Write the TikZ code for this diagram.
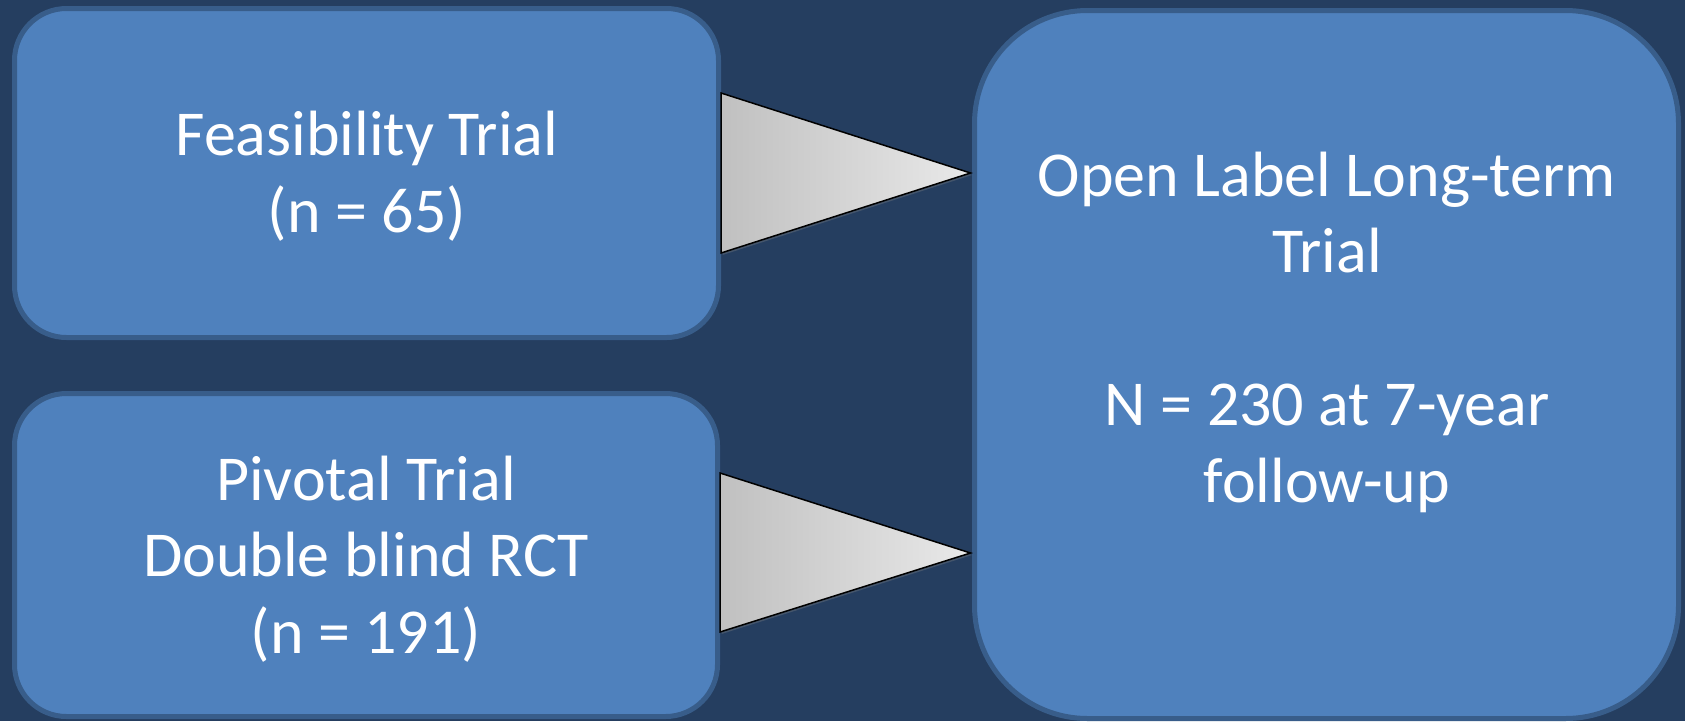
\documentclass[tikz,border=0pt]{standalone}
\usepackage{fontspec}
\setmainfont{Carlito}
\usetikzlibrary{calc,shadows}
\definecolor{bg}{RGB}{37,62,96}
\definecolor{boxfill}{RGB}{79,129,189}
\definecolor{boxline}{RGB}{56,93,138}
\definecolor{triL}{RGB}{192,192,192}
\definecolor{triR}{RGB}{233,233,233}
\begin{document}
\begin{tikzpicture}[x=1pt,y=-1pt,
  stage/.style={draw=boxline, line width=5pt, fill=boxfill, inner sep=0pt},
  txt/.style={text=white, font=\fontsize{64}{76.5}\selectfont, align=center, inner sep=0pt},
  chev/.style={draw=black, line width=1.5pt, line join=miter, left color=triL, right color=triR,
    drop shadow={opacity=0.35, shadow xshift=1.5pt, shadow yshift=-2pt}}]
\fill[bg] (0,0) rectangle (1685,721);
\useasboundingbox (0,0) rectangle (1685,721);
\node[stage, minimum width=704pt, minimum height=329pt, rounded corners=52pt] (feas) at (366.5,173) {};
\node[stage, minimum width=703pt, minimum height=323pt, rounded corners=52pt] (piv) at (366,555) {};
\node[stage, minimum width=704pt, minimum height=708pt, rounded corners=113pt] (olt) at (1326.5,364.5) {};
\node[txt, anchor=base] (feast) at (367,232) {Feasibility Trial\\(n = 65)};
\node[txt, anchor=base] (pivt) at (366,653) {Pivotal Trial\\Double blind RCT\\(n = 191)};
\node[txt, anchor=base] (oltt) at (1327,502) {Open Label Long-term\\Trial\\[76.5pt]N = 230 at 7-year\\follow-up};
\draw[chev] ($(feas.east)+(0,-80)$) -- ($(olt.west |- feas.east)+(-1.5,0)$) -- ($(feas.east)+(0,80)$) -- cycle;
\draw[chev] ($(piv.east)+(0,-82)$) -- ($(olt.west |- piv.east)+(-1.5,-2)$) -- ($(piv.east)+(0,77)$) -- cycle;
\end{tikzpicture}
\end{document}
